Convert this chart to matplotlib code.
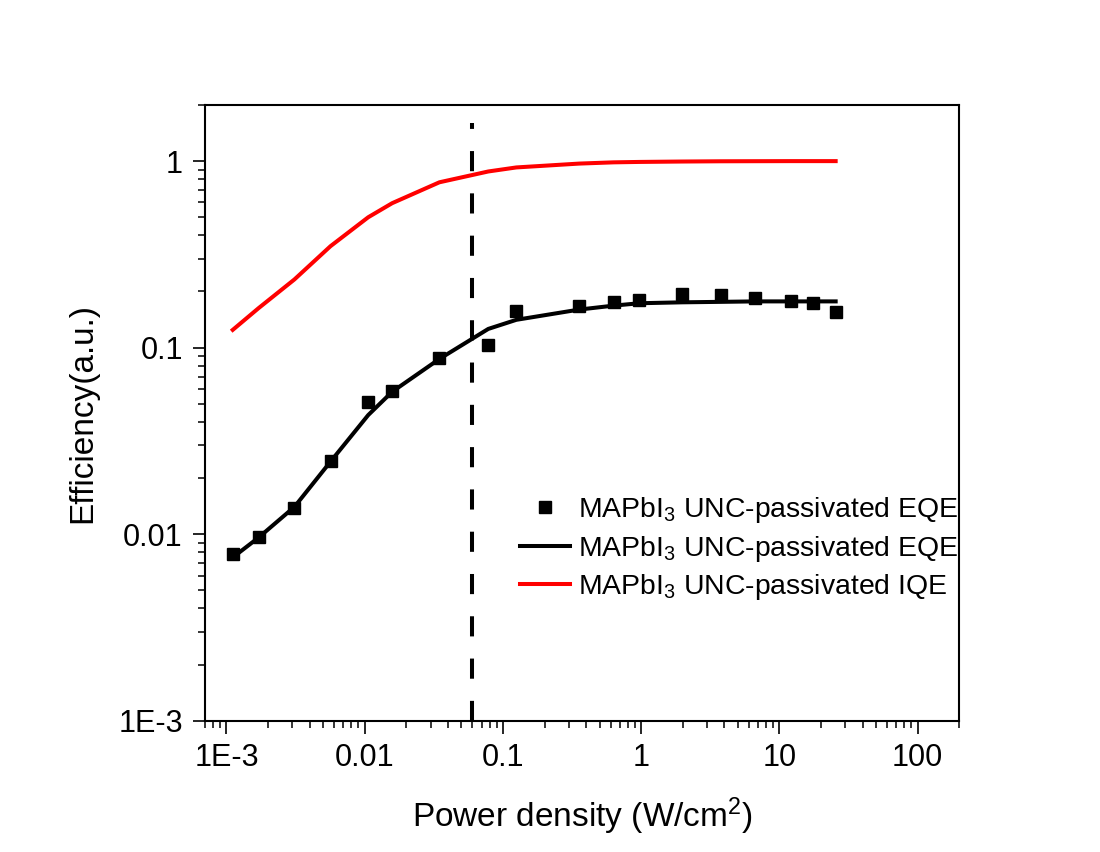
import matplotlib
matplotlib.use('Agg')
import matplotlib.pyplot as plt
from matplotlib.ticker import LogLocator, FixedLocator, FuncFormatter, NullFormatter

plt.rcParams['font.family'] = ['Liberation Sans', 'DejaVu Sans']
plt.rcParams['mathtext.fontset'] = 'custom'
plt.rcParams['mathtext.rm'] = 'Liberation Sans'
plt.rcParams['mathtext.it'] = 'Liberation Sans'

# measured EQE points
eqe_x = [1.11e-3, 1.71e-3, 3.1e-3, 5.66e-3, 0.0106, 0.0158, 0.0347, 0.0783, 0.125,
         0.356, 0.632, 0.969, 1.98, 3.75, 6.71, 12.1, 17.5, 25.5]
eqe_y = [0.0078, 0.0096, 0.01375, 0.0246, 0.0511, 0.0585, 0.088, 0.1035, 0.157,
         0.168, 0.1746, 0.179, 0.1937, 0.192, 0.1845, 0.178, 0.173, 0.156]

# fitted EQE curve
fit_x = eqe_x
fit_y = [0.0075, 0.0096, 0.0140, 0.0245, 0.0435, 0.058, 0.087, 0.126, 0.141,
         0.160, 0.168, 0.173, 0.175, 0.176, 0.177, 0.177, 0.177, 0.177]

# IQE curve
iqe_x = eqe_x
iqe_y = [0.1245, 0.163, 0.232, 0.35, 0.50, 0.595, 0.77, 0.88, 0.925,
         0.97, 0.985, 0.99, 0.995, 0.998, 0.999, 1.0, 1.0, 1.0]

vline_x = 0.06
x_lim = (7e-4, 200)
y_lim = (1e-3, 2)
x_ticks = [1e-3, 0.01, 0.1, 1, 10, 100]
y_ticks = [1e-3, 0.01, 0.1, 1]
label = 'MAPbI$_3$ UNC-passivated '

def fmt(v, pos):
    if v < 0.005:
        return '1E-3'
    if v >= 1:
        return '%d' % round(v)
    return ('%g' % v)

fig = plt.figure(figsize=(11, 8.52), dpi=100)
ax = fig.add_axes([0.1864, 0.1541, 0.6857, 0.7227])

ax.plot(eqe_x, eqe_y, 's', color='black', markersize=8.5, label=label + 'EQE', zorder=4)
ax.plot(fit_x, fit_y, '-', color='black', lw=2.9, label=label + 'EQE', zorder=3)
ax.plot(iqe_x, iqe_y, '-', color='#ff0000', lw=2.9, label=label + 'IQE', zorder=3)
ax.plot([vline_x, vline_x], [1e-3, 1.6], color='black', lw=2.9,
        dashes=(5, 5.5), zorder=2)

ax.set_xscale('log')
ax.set_yscale('log')
ax.set_xlim(*x_lim)
ax.set_ylim(*y_lim)

ax.xaxis.set_major_locator(FixedLocator(x_ticks))
ax.yaxis.set_major_locator(FixedLocator(y_ticks))
ax.xaxis.set_minor_locator(LogLocator(base=10, subs=range(2, 10), numticks=20))
ax.yaxis.set_minor_locator(LogLocator(base=10, subs=range(2, 10), numticks=20))
ax.xaxis.set_major_formatter(FuncFormatter(fmt))
ax.yaxis.set_major_formatter(FuncFormatter(fmt))
ax.xaxis.set_minor_formatter(NullFormatter())
ax.yaxis.set_minor_formatter(NullFormatter())

ax.tick_params(which='major', direction='out', length=9, width=1.2, labelsize=22, pad=7)
ax.tick_params(which='minor', direction='out', length=5, width=1.1)
ax.tick_params(top=False, right=False, which='both')
for s in ax.spines.values():
    s.set_linewidth(1.5)

ax.set_xlabel('Power density (W/cm$^2$)', fontsize=24, labelpad=16)
ax.set_ylabel('Efficiency(a.u.)', fontsize=24, labelpad=14)

leg = ax.legend(loc='upper left', bbox_to_anchor=(0.418, 0.366), frameon=False,
                fontsize=20.4, handlelength=1.77, handletextpad=0.28,
                labelspacing=0.3, borderaxespad=0, borderpad=0)

fig.savefig('out.png', dpi=100, facecolor='white')
